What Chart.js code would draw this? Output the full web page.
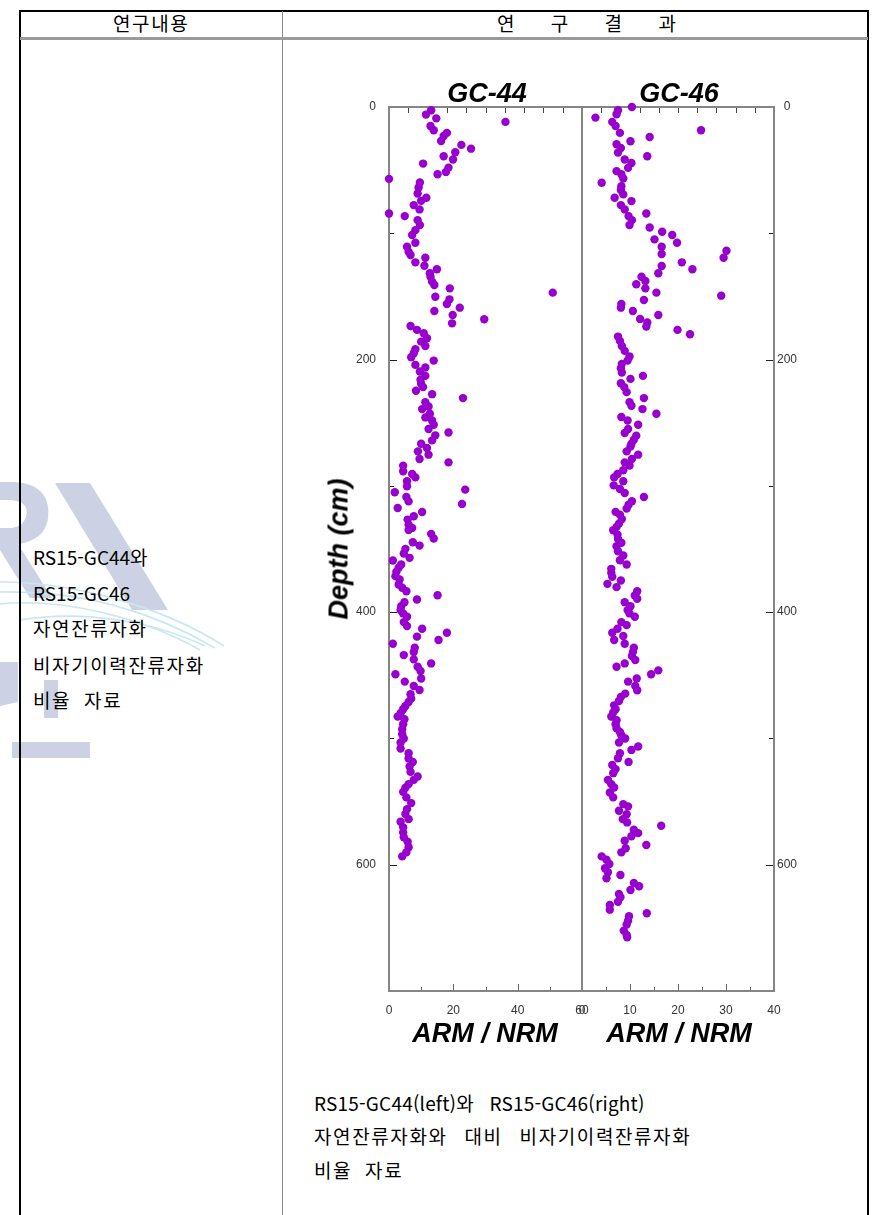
<!DOCTYPE html>
<html lang="ko">
<head>
<meta charset="utf-8">
<title>ARM / NRM</title>
<script src="https://cdn.jsdelivr.net/npm/chart.js@4.4.1/dist/chart.umd.min.js"></script>
<style>
  html, body { margin: 0; padding: 0; background: #fff; }
  body { width: 881px; height: 1215px; position: relative; overflow: hidden;
         font-family: "Noto Sans CJK KR", "Noto Sans", sans-serif; color: #000; }
  .rule { position: absolute; }
  .kr { position: absolute; font-size: 19px; line-height: 19px; white-space: nowrap; }
  .hg { letter-spacing: 1.6px; word-spacing: 5px; }
  .ttl { position: absolute; font-family: "Liberation Sans", Arial, sans-serif; font-weight: bold;
         font-style: italic; font-size: 27px; line-height: 27px; white-space: nowrap;
         transform: translate(-50%, -50%); }
  .plot { position: absolute; }
  #wm { position: absolute; left: 0; top: 470px; }
</style>
</head>
<body>

<!-- faint logo behind the left column -->
<svg id="wm" width="240" height="310" viewBox="0 0 240 310">
  <g fill="#ccd1e3">
    <path d="M0,12 L14,12 C44,14 50,30 48,48 C46,64 34,72 18,74 L52,128 L30,128 L0,80 Z M0,30 L0,58 L12,58 C26,56 28,44 26,38 C24,32 16,30 8,30 Z"/>
    <polygon points="55,13 90,13 168,140 132,140"/>
    <polygon points="44,210 58,210 58,248 44,248"/>
    <polygon points="0,192 18,192 18,232 0,236"/>
    <polygon points="12,272 90,272 90,288 12,288"/>
  </g>
  <g fill="none" stroke="#c8e7f1" stroke-width="1.6">
    <path d="M0,112 C70,112 160,135 224,176"/>
    <path d="M0,122 C80,120 150,140 215,178"/>
    <path d="M0,134 C60,128 140,146 200,180"/>
    <path d="M20,150 C80,140 150,150 205,176"/>
  </g>
</svg>

<!-- table frame -->
<div class="rule" style="left:19px;top:10px;width:850px;height:2px;background:#000"></div>
<div class="rule" style="left:19px;top:10px;width:2px;height:1205px;background:#000"></div>
<div class="rule" style="left:867px;top:10px;width:2px;height:1205px;background:#000"></div>
<div class="rule" style="left:282px;top:11px;width:1px;height:1204px;background:#8a8a8a"></div>
<div class="rule" style="left:20px;top:37px;width:848px;height:3px;background:#9a9a9a"></div>

<div class="kr hg" style="left:113px;top:13px">연구내용</div>
<div class="kr" style="left:497px;top:13px;word-spacing:31px">연 구 결 과</div>

<div class="kr" style="left:33px;top:547px">RS15-GC44와</div>
<div class="kr" style="left:33px;top:583px">RS15-GC46</div>
<div class="kr hg" style="left:33px;top:618px">자연잔류자화</div>
<div class="kr hg" style="left:33px;top:655px">비자기이력잔류자화</div>
<div class="kr hg" style="left:33px;top:690px;word-spacing:6px">비율 자료</div>

<div class="kr" style="left:314px;top:1093px;word-spacing:10px;letter-spacing:0.2px">RS15-GC44(left)와 RS15-GC46(right)</div>
<div class="kr hg" style="left:314px;top:1126px;word-spacing:10px">자연잔류자화와 대비 비자기이력잔류자화</div>
<div class="kr hg" style="left:314px;top:1160px;word-spacing:6px">비율 자료</div>

<!-- plots -->
<div class="plot" style="left:330px;top:97px;width:264px;height:930px"><canvas id="c44" width="264" height="930"></canvas></div>
<div class="plot" style="left:575px;top:97px;width:240px;height:930px"><canvas id="c46" width="240" height="930"></canvas></div>

<div class="ttl" style="left:487px;top:93px">GC-44</div>
<div class="ttl" style="left:679px;top:93px">GC-46</div>
<div class="ttl" style="left:485px;top:1033px">ARM / NRM</div>
<div class="ttl" style="left:679px;top:1033px">ARM / NRM</div>
<div class="ttl" style="left:339px;top:549px;transform:translate(-50%,-50%) rotate(-90deg)">Depth (cm)</div>

<script>
// [depth (cm), ARM/NRM] for core RS15-GC44
const gc44Points = [
  [2.6,13.1],[6,11.5],[9,14.7],[11.8,36.2],[15,12.9],[18.4,13.9],[20.5,18.0],[23,17],[26.9,16.2],
  [30,22.5],[33,25.5],[35.8,20.6],[39,17],[41.6,19.9],[44.8,10.6],[48,18.5],[51.4,17.7],[53.2,15.1],
  [56.9,0],[59.8,9.6],[63.7,9.2],[68.5,8.9],[71.9,11.6],[74.3,10],[77.7,7.7],[81.1,9.5],[84.3,0],
  [86.4,4.9],[89.6,8.9],[93.5,9.6],[97.5,8.2],[101.4,7.2],[107.5,8.2],[110.7,5.6],[114.6,6.1],
  [117.2,6.7],[119.4,11.3],[123,8.2],[125.7,11],[128.5,14.9],[131.7,12.7],[134.4,12.9],[138.3,13.4],
  [141,14.1],[143.6,18.9],[147,50.9],[150.2,14.4],[152.3,18.8],[156,18],[158.9,22],[161.5,14.1],
  [164.7,19.8],[168.1,29.6],[171.3,19.6],[173.4,6.7],[176.5,8.7],[179.1,10.8],[183.1,11.8],[185.8,10],
  [189.2,11.3],[191.8,8.2],[195,7.7],[198.1,6.9],[200.8,13.9],[204.2,8.2],[206.3,11.3],[209.5,9.6],
  [212.9,11.3],[216,9.8],[219.2,10],[221.8,10.6],[224.7,8.4],[227.4,13.4],[230.5,23],[233.7,11.3],
  [237.2,12.3],[239.2,10.3],[242.9,12.7],[245.8,11.3],[248.2,13.4],[251.6,13.9],[255,12.3],[257.7,18.5],
  [260,14.4],[264,13.4],[266.6,10],[270,11.8],[272.7,9],[275.3,12.3],[278.7,9.5],[281.4,18.5],[284,4.4],
  [288.5,4.4],[290.6,7.2],[293.3,8.2],[296.4,5.6],[300.3,5.6],[303,23.7],[305.1,1.8],[308.8,5.4],
  [312.3,6.1],[314.3,22.7],[317.5,2.7],[320.7,10.3],[324.1,7.7],[326.7,5.8],[330.7,6.1],[333.3,7.2],
  [335,6.1],[338,13.1],[341.7,13.9],[344.6,7.4],[347.3,9.5],[349.9,5.1],[353.6,4.6],[357,6.4],
  [359.1,1.2],[362.3,3.8],[364.9,3],[368,2.3],[371.5,2],[374.2,3.3],[378.1,3],[380.7,4.1],[383.4,5.4],
  [386.6,15.1],[390,8.7],[392.1,4.8],[395.3,3.8],[398.4,3.6],[401,4.4],[403.6,5.6],[407.9,4.6],
  [411,5.6],[413.1,10.3],[416.3,18],[419.4,8.7],[422.1,15.4],[425,1.2],[428.1,8],[431.6,7.7],[434,4.6],
  [437.4,7.7],[440.6,13.1],[443.2,8.9],[446.6,9.8],[449.2,2],[452.6,10],[455,4.9],[458.5,7.7],
  [461.6,9.5],[465,6.7],[468.5,6.9],[471.1,6.1],[474.3,5.1],[476.9,4.4],[480.1,3.6],[482.7,2.7],
  [484.8,4.8],[488.8,4.4],[492.7,4.1],[496.7,4.1],[500,4.6],[503.2,3.6],[508,3.6],[511.7,6.1],
  [515.9,6.1],[518.6,7.4],[522.2,6.4],[526.5,6.7],[530.1,8.9],[532.8,7.7],[536.2,6.1],[539,5.1],
  [542.3,4.4],[546.7,5.4],[551.2,6.9],[556,5.6],[559.9,5.1],[563.9,6.1],[566,3.6],[570.4,4.4],
  [574.4,4.4],[578.3,4.6],[581.8,5.8],[586.2,6.1],[590.2,5.4],[593.4,4.1]
];

// [depth (cm), ARM/NRM] for core RS15-GC46
const gc46Points = [
  [0,10.4],[2.6,7.5],[5.8,7.2],[8.4,2.8],[11.8,6.3],[15,7],[18.4,24.8],[20.5,7.9],[23.7,14.1],
  [27.1,10.1],[29.5,7.2],[32.4,8.1],[36.1,7.5],[39,13.6],[41.6,8.9],[44.3,10.3],[48.2,9.6],[50.8,7.2],
  [53.2,8.2],[56.6,8.6],[60,4.1],[62.7,8.2],[65.8,8.1],[69.2,8.6],[71.9,6.8],[74.5,10.3],[77.7,8.1],
  [81.1,8.9],[84.3,13.4],[86.4,9.7],[89.6,10.4],[93.5,9.9],[95.4,14.1],[98.8,16.7],[101.4,18.8],
  [104.8,15.1],[107.5,19.8],[110.7,16.6],[113.8,30.1],[116.4,16.6],[119.4,29.5],[123,20.8],
  [125.9,16.6],[128.5,23],[131.7,15.9],[134.4,12.4],[137.8,13.2],[140.4,11.3],[143.6,13.2],[147,15.5],
  [149.4,29],[152.8,12.9],[156,8.2],[158.9,8.1],[161.5,10.6],[164.7,15.9],[167.8,12.1],[170.7,13.6],
  [173.9,13.4],[176.5,19.9],[179.9,22.5],[181.8,7.5],[185.2,7.9],[189.2,8.3],[193.1,8.9],[197.6,9.9],
  [200.8,9.5],[203.4,8.3],[206.8,8.1],[210.3,8.3],[212.9,12.7],[215.3,10.1],[218.7,8.1],[221.8,8.8],
  [225.8,9.3],[230.5,12.9],[233.7,9.9],[236.6,10.3],[239.2,12.6],[242.9,15.5],[245.5,8.2],[248.2,9.5],
  [251.6,11.7],[255,9.6],[258.2,8.9],[260.3,11.3],[263.5,10.8],[266.6,10.3],[268.8,10.1],[272.7,9.3],
  [275.3,11.7],[278.7,10.4],[281.4,8.9],[284,9.9],[287.7,8.6],[290.6,7.4],[293.3,6.7],[296.4,8.6],
  [299.6,6.6],[302.5,7.9],[305.6,8.9],[308.8,12.9],[312.2,10.4],[314.9,9.7],[318,9.3],[320.6,7],
  [322.8,7.9],[326.2,8.3],[329.9,7.7],[332.5,7.2],[335.2,6.5],[338.6,7.4],[342,7.5],[345.1,8.2],
  [347.8,7.2],[351.8,7.5],[355.2,8.6],[358.9,7.9],[362.3,9.3],[365.7,6.1],[368.9,6.1],[372,6.3],
  [374.9,8.1],[377.6,5.3],[380.2,7.2],[383.4,11.5],[386.8,11],[389.4,11.5],[392.1,8.9],[395.3,10.1],
  [398.4,9.5],[401,9.9],[403.6,11],[407.9,8.2],[410.3,9.3],[413.1,7.4],[416.3,6.3],[418.9,8.6],
  [422.1,6.7],[425,8.9],[428.1,10.8],[431.6,10.6],[434.8,10.4],[437.9,11.1],[440.6,8.9],[443.2,7.2],
  [446.1,15.9],[449.2,14.4],[452.6,11.4],[455,9.6],[458.5,11.1],[461.9,11.5],[464.5,9],[467.2,8.1],
  [470.4,7.7],[473.8,6.7],[476.9,7],[479.5,6.5],[482.7,6.1],[485.6,7.2],[488.8,7],[491.9,7.2],
  [494.9,7.9],[497.5,8.2],[500,9],[503.2,7.7],[506.4,11.7],[509.1,10.3],[511.7,7.9],[515.7,7.5],
  [518.6,9.7],[521,6.3],[524.3,7],[527.5,6.5],[532.8,5.4],[536.2,6.1],[538.8,6.7],[542.8,5.8],
  [546.7,6.5],[552,8.6],[553.8,9.6],[557.3,7.7],[560,9.3],[563.9,8.5],[566.5,9.4],[569.2,16.5],
  [572.3,10.8],[575,11.7],[577.5,10.3],[581,8.9],[584.4,13.4],[587,9.1],[590.2,8.2],[593.4,4.1],
  [596,5.1],[599.4,5.7],[602.8,4.8],[606,5.4],[608.1,8],[610.7,5.1],[614.5,10.8],[617.1,11.9],
  [620,10.1],[623.2,7.7],[625.8,8],[629.3,7.5],[631.9,5.8],[635.6,5.8],[638.4,13.5],[640.8,9.8],
  [644.3,9.6],[647.4,9.3],[652.2,8.7],[655.6,9.3],[657.4,9.4]
];

// axis ranges and labelled ticks
const depthRange = [0, 700];
const depthLabels = [0, 200, 400, 600];
const gc44Range = [0, 60];
const gc44Labels = [0, 20, 40, 60];
const gc46Range = [0, 40];
const gc46Labels = [0, 10, 20, 30, 40];

const MARK = '#9700cf';
const FRAME = '#858585';

// box frame plus inward tick marks, drawn under the points
const frameTicks = {
  id: 'frameTicks',
  beforeDatasetsDraw(chart, args, o) {
    const { ctx, chartArea: a, scales: { x, y } } = chart;
    ctx.save();
    ctx.lineCap = 'butt';
    // top: ten equal divisions
    ctx.strokeStyle = '#444'; ctx.lineWidth = 1;
    for (let i = 1; i < 10; i++) {
      const px = Math.round(x.getPixelForValue(x.min + i * (x.max - x.min) / 10)) + 0.5;
      ctx.beginPath(); ctx.moveTo(px, a.top); ctx.lineTo(px, a.top + 6); ctx.stroke();
    }
    // bottom ticks
    ctx.strokeStyle = '#666';
    for (let v = x.min + o.xMinor; v < x.max; v += o.xMinor) {
      const major = Math.abs(v / o.xMajor - Math.round(v / o.xMajor)) < 1e-6;
      const px = Math.round(x.getPixelForValue(v)) + 0.5;
      ctx.beginPath(); ctx.moveTo(px, a.bottom); ctx.lineTo(px, a.bottom - (major ? 7 : 4)); ctx.stroke();
    }
    // depth ticks on the outer side
    ctx.strokeStyle = '#222';
    const side = o.ySide === 'right' ? a.right : a.left;
    const dir = o.ySide === 'right' ? -1 : 1;
    for (let v = 100; v < y.max; v += 100) {
      const py = Math.round(y.getPixelForValue(v)) + 0.5;
      const len = v % 200 === 0 ? 8 : 5;
      ctx.beginPath(); ctx.moveTo(side, py); ctx.lineTo(side + dir * len, py); ctx.stroke();
    }
    // frame
    ctx.strokeStyle = FRAME; ctx.lineWidth = 2;
    ctx.strokeRect(a.left, a.top, a.right - a.left, a.bottom - a.top);
    ctx.restore();
  }
};

// the plot box is set by layout padding alone, so scale edge padding is cleared
function clearEdges(s) { s.paddingTop = 0; s.paddingBottom = 0; s.paddingLeft = 0; s.paddingRight = 0; }

function depthAxis(position, pad, width, align) {
  return {
    type: 'linear', position, reverse: true,
    min: depthRange[0], max: depthRange[1],
    grid: { display: false, drawTicks: false }, border: { display: false },
    ticks: {
      stepSize: 100, autoSkip: false, padding: pad, crossAlign: align,
      color: '#333', font: { family: 'Liberation Sans, Arial, sans-serif', size: 12 },
      callback: v => depthLabels.includes(v) ? String(v) : ''
    },
    afterFit: s => { s.width = width; clearEdges(s); }
  };
}

function ratioAxis(range, labels, step) {
  return {
    type: 'linear', position: 'bottom', min: range[0], max: range[1],
    grid: { display: false, drawTicks: false }, border: { display: false },
    ticks: {
      stepSize: step, autoSkip: false, maxRotation: 0, padding: 12,
      color: '#333', font: { family: 'Liberation Sans, Arial, sans-serif', size: 12 },
      callback: v => labels.includes(v) ? String(v) : ''
    },
    afterFit: s => { s.height = 36; clearEdges(s); }
  };
}

function makeChart(id, points, xAxis, yAxis, padding, tickOpts) {
  return new Chart(document.getElementById(id), {
    type: 'scatter',
    data: {
      datasets: [{
        data: points.map(p => ({ x: p[1], y: p[0] })),
        backgroundColor: MARK, borderWidth: 0,
        pointRadius: 4.2, pointHoverRadius: 4.2, clip: false
      }]
    },
    options: {
      responsive: false, animation: false, devicePixelRatio: 1,
      layout: { padding },
      scales: { x: xAxis, y: yAxis },
      plugins: { legend: { display: false }, tooltip: { enabled: false }, frameTicks: tickOpts }
    },
    plugins: [frameTicks]
  });
}

makeChart('c44', gc44Points,
  ratioAxis(gc44Range, gc44Labels, 20),
  depthAxis('left', 13, 59, 'near'),
  { top: 10, right: 12, left: 0, bottom: 0 },
  { xMinor: 10, xMajor: 20, ySide: 'left' });

makeChart('c46', gc46Points,
  ratioAxis(gc46Range, gc46Labels, 10),
  depthAxis('right', 3, 41, 'center'),
  { top: 10, right: 0, left: 7, bottom: 0 },
  { xMinor: 5, xMajor: 10, ySide: 'right' });
</script>
</body>
</html>
